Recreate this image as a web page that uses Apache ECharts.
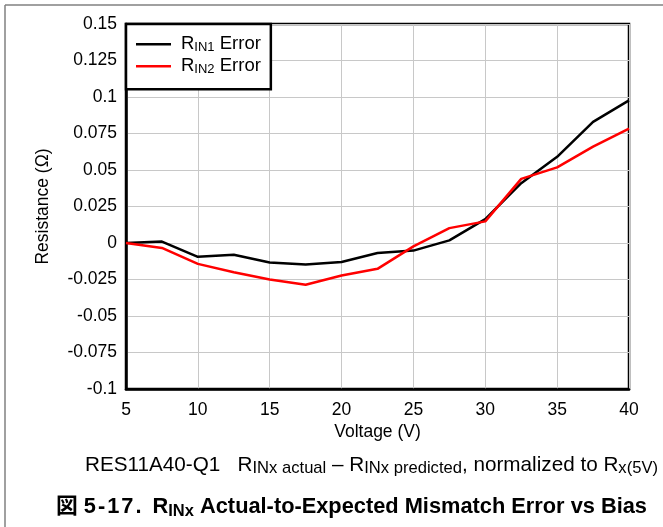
<!DOCTYPE html>
<html>
<head>
<meta charset="utf-8">
<script src="https://cdn.jsdelivr.net/npm/echarts@6/dist/echarts.min.js"></script>
<style>
html,body{margin:0;padding:0;background:#fff;}
#chart{width:663px;height:527px;}
</style>
</head>
<body>
<div id="chart"></div>
<script>
// ---- data ----
const voltages = [5, 7.5, 10, 12.5, 15, 17.5, 20, 22.5, 25, 27.5, 30, 32.5, 35, 37.5, 40];
const rin1Error = [0, 0.001, -0.0095, -0.008, -0.0134, -0.0148, -0.013, -0.0068, -0.0052, 0.0018, 0.0164, 0.041, 0.059, 0.083, 0.0977];
const rin2Error = [0, -0.0034, -0.0143, -0.020, -0.025, -0.0286, -0.0223, -0.0177, -0.0023, 0.0102, 0.0148, 0.0439, 0.0518, 0.066, 0.0784];
const seriesNames = ['RIN1 Error', 'RIN2 Error'];
const xTicks = [5, 10, 15, 20, 25, 30, 35, 40];
const yTicks = [-0.1, -0.075, -0.05, -0.025, 0, 0.025, 0.05, 0.075, 0.1, 0.125, 0.15];

const FONT = "'Liberation Sans', Arial, 'Noto Sans CJK JP', sans-serif";
const chart = echarts.init(document.getElementById('chart'), null, {renderer: 'canvas'});

const toPairs = (xs, ys) => xs.map((x, i) => [x, ys[i]]);

function reg(size, extra) {
  return Object.assign({fontSize: size, fontWeight: 'normal', fontFamily: FONT, color: '#000', lineHeight: 24, verticalAlign: 'middle'}, extra || {});
}
function sub(size, weight) {
  return {fontSize: size, fontWeight: weight || 'normal', fontFamily: FONT, color: '#000', lineHeight: size, verticalAlign: 'bottom'};
}

const option = {
  animation: false,
  backgroundColor: '#fff',
  textStyle: {fontFamily: FONT},
  grid: {
    left: 126, right: 34, top: 24, bottom: 138,
    show: true, borderColor: '#000', borderWidth: 2.5, backgroundColor: '#fff'
  },
  legend: {
    left: 126, top: 24,
    orient: 'vertical',
    backgroundColor: '#fff',
    borderColor: '#000', borderWidth: 2.5,
    padding: [11, 10, 13, 10],
    itemGap: 2.7,
    icon: 'rect',
    itemWidth: 35, itemHeight: 2.5,
    selectedMode: false,
    formatter: function (name) {
      const num = name.replace('RIN', '').replace(' Error', '');
      return '{r|R}{s|IN' + num + '}{r| Error}';
    },
    textStyle: {
      padding: [0, 0, 0, 5],
      rich: {
        r: {fontSize: 18.5, fontFamily: FONT, color: '#000', lineHeight: 20, verticalAlign: 'middle'},
        s: {fontSize: 13, fontFamily: FONT, color: '#000', lineHeight: 12, verticalAlign: 'bottom'}
      }
    },
    data: seriesNames
  },
  title: [
    {
      left: 85, top: 453, padding: 0,
      text: '{a|RES11A40-Q1   R}{s|INx actual}{a| – R}{s|INx predicted}{a|, normalized to R}{s|x(5V)}',
      textStyle: {
        fontWeight: 'normal',
        rich: {
          a: reg(20.7),
          s: sub(16.6)
        }
      }
    },
    {
      left: 56, top: 494, padding: 0,
      text: '{a|図 }{d|5}{d|-}{d|1}{d|7}{p|.}{a|R}{s|INx}{a| Actual-to-Expected Mismatch Error vs Bias}',
      textStyle: {
        rich: {
          a: reg(21.8, {fontWeight: 'bold', lineHeight: 26}),
          d: reg(21.8, {fontWeight: 'bold', lineHeight: 26, padding: [0, 2, 0, 0]}),
          p: reg(21.8, {fontWeight: 'bold', lineHeight: 26, padding: [0, 11, 0, 0]}),
          s: sub(16.5, 'bold')
        }
      }
    }
  ],
  xAxis: {
    type: 'value',
    min: xTicks[0], max: xTicks[xTicks.length - 1], interval: xTicks[1] - xTicks[0],
    name: 'Voltage (V)', nameLocation: 'middle', nameGap: 34,
    nameTextStyle: {fontSize: 17.5, color: '#000', fontFamily: FONT},
    axisLine: {show: true, onZero: false, lineStyle: {color: '#000', width: 2.5}},
    axisTick: {show: false},
    axisLabel: {fontSize: 17.5, color: '#000', margin: 12, fontFamily: FONT},
    splitLine: {show: true, lineStyle: {color: '#c8c8c8', width: 1}}
  },
  yAxis: {
    type: 'value',
    min: yTicks[0], max: yTicks[yTicks.length - 1],
    interval: yTicks[1] - yTicks[0],
    name: 'Resistance (Ω)', nameLocation: 'middle', nameGap: 74, nameRotate: 90,
    nameTextStyle: {fontSize: 17.5, color: '#000', fontFamily: FONT},
    axisLine: {show: true, onZero: false, lineStyle: {color: '#000', width: 2.5}},
    axisTick: {show: false},
    axisLabel: {
      fontSize: 17.5, color: '#000', margin: 9, fontFamily: FONT,
      formatter: function (v) { return String(parseFloat(v.toFixed(3))); }
    },
    splitLine: {show: true, lineStyle: {color: '#c8c8c8', width: 1}}
  },
  series: [
    {
      name: seriesNames[0], type: 'line', symbol: 'none', z: 3,
      lineStyle: {color: '#000', width: 2.5}, itemStyle: {color: '#000'},
      data: toPairs(voltages, rin1Error)
    },
    {
      name: seriesNames[1], type: 'line', symbol: 'none', z: 4,
      lineStyle: {color: '#ff0000', width: 2.5}, itemStyle: {color: '#ff0000'},
      data: toPairs(voltages, rin2Error)
    }
  ],
  graphic: [
    {type: 'line', shape: {x1: 5, y1: 5, x2: 663, y2: 5}, style: {stroke: '#808080', lineWidth: 1.5}, silent: true},
    {type: 'line', shape: {x1: 5, y1: 5, x2: 5, y2: 527}, style: {stroke: '#808080', lineWidth: 1.5}, silent: true}
  ]
};
chart.setOption(option);
</script>
</body>
</html>
